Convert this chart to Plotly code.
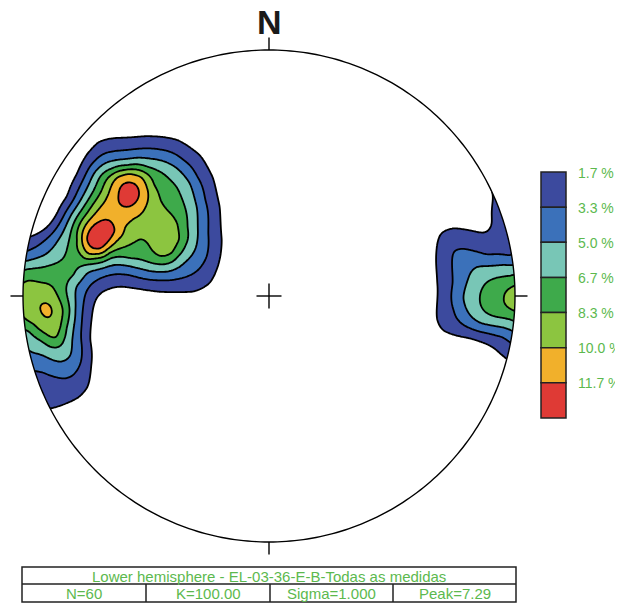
import numpy as np
import plotly.graph_objects as go

# ---------------- data ----------------
# Net coordinates: primitive circle radius = 246 net units, centre = (0, 0), north = +y.
NET_R = 246.0
level_labels = ["1.7 %", "3.3 %", "5.0 %", "6.7 %", "8.3 %", "10.0 %", "11.7 %"]
band_colors = ["#3c4a9e", "#3b71ba", "#78c6b6", "#3eaa4b", "#8cc540", "#f1b02b", "#df3a35"]
contour_step = 5.0 / 3.0  # % density between contour levels

# density samples read along each contour level (net units)
iso17 = [(-238, 60), (-226, 66), (-212, 82), (-202, 99), (-192, 122), (-182, 142), (-171, 154), (-154, 158),
         (-124, 160), (-91, 156), (-68, 140), (-56, 119), (-49, 89), (-47, 56), (-51, 30), (-59, 13), (-76, 4),
         (-109, 4), (-139, 8), (-159, 7), (-171, 0), (-177, -21), (-179, -44), (-178, -70), (-181, -91),
         (-191, -102), (-206, -109), (-219, -113),
         (168, 51), (168, 14), (168, -24), (172, 63), (184, 68), (201, 66), (216, 63), (223, 73), (223, 91),
         (220, 108), (173, -34), (201, -42), (231, -58)]
iso33 = [(-241, 45), (-224, 56), (-205, 81), (-191, 106), (-183, 122), (-173, 136), (-159, 144), (-142, 146),
         (-106, 146), (-86, 136), (-72, 119), (-64, 96), (-61, 63), (-62, 40), (-72, 25), (-92, 17), (-109, 16),
         (-139, 21), (-159, 21), (-173, 15), (-183, 3), (-187, -21), (-187, -49), (-188, -66), (-195, -78),
         (-212, -81), (-226, -76),
         (184, 44), (201, 46), (218, 41), (241, 39), (184, 13), (185, -14), (198, -31), (218, -37), (234, -41)]
iso50 = [(-242, 35), (-224, 41), (-211, 56), (-198, 81), (-183, 106), (-176, 121), (-164, 133), (-142, 137),
         (-109, 136), (-92, 128), (-79, 113), (-72, 89), (-71, 63), (-74, 46), (-84, 34), (-109, 24), (-139, 30),
         (-159, 30), (-181, 24), (-193, 10), (-194, -14), (-197, -44), (-198, -59), (-209, -66), (-226, -59),
         (-237, -57),
         (194, -2), (199, 16), (209, 30), (236, 32), (201, -19), (211, -27), (236, -32)]
iso67 = [(-242, 27), (-219, 31), (-200, 56), (-191, 81), (-175, 106), (-168, 121), (-157, 127), (-142, 130),
         (-122, 129), (-106, 123), (-92, 109), (-84, 89), (-82, 69), (-84, 51), (-92, 40), (-109, 32), (-139, 37),
         (-159, 38), (-181, 32), (-194, 20), (-203, 6), (-199, -14), (-203, -32), (-206, -44), (-212, -51),
         (-226, -45), (-240, -34),
         (211, -2), (217, 13), (226, 18), (241, 20), (216, -16), (226, -21), (241, -23)]
iso83 = [(-191, 56), (-183, 81), (-167, 106), (-116, 111), (-109, 96), (-102, 86), (-91, 72), (-89, 56),
         (-96, 42), (-109, 39), (-120, 52), (-129, 59), (-144, 49), (-159, 44), (-174, 38), (-187, 42),
         (-242, 16), (-229, 13), (-216, 9), (-211, -1), (-206, -14), (-208, -31), (-211, -43), (-219, -41),
         (-231, -33), (-242, -25),
         (236, -2), (241, 8), (241, -13)]
iso100 = [(-187, 56), (-182, 73), (-169, 89), (-159, 106), (-152, 119), (-141, 123), (-127, 119), (-121, 106),
          (-124, 89), (-136, 78), (-146, 69), (-152, 56), (-166, 43), (-182, 41),
          (-222, -7), (-218, -14), (-222, -21), (-226, -14)]
iso117 = [(-140, 113), (-130, 101), (-140, 89), (-150, 101),
          (-168, 75), (-153, 65), (-168, 47), (-183, 57)]

# density maxima and interior samples (net units, %)
peak_pts = [(-140, 101), (-168, 61), (-154, 82), (-119, 81), (-107, 68), (-99, 53), (-135, 67),
            (-222, -14), (-231, 1), (-232, -22),
            (253, -2), (243, -2), (228, 84), (234, 56), (229, 106)]
peak_vals = [12.9, 13.3, 11.0, 9.4, 9.3, 9.0, 9.6,
             10.6, 9.3, 9.3,
             9.8, 9.2, 2.2, 2.6, 1.9]

# empty (zero density) samples
zero_pts = [(-229, 74), (-221, 96), (-209, 118), (-197, 138), (-184, 156), (-164, 171), (-124, 174), (-84, 170),
            (-57, 151), (-43, 124), (-35, 89), (-33, 56), (-37, 24), (-47, 1), (-76, -10), (-109, -10),
            (-139, -6), (-157, -9), (-163, -24), (-165, -46), (-164, -70), (-168, -96), (-181, -114), (-199, -124),
            (0, 0), (0, 100), (0, 200), (-89, 226), (81, 186), (131, 96), (81, 0), (111, 0), (131, -84), (0, -100),
            (0, -200), (-109, -84), (-119, -174), (111, -174),
            (154, 51), (153, 6), (156, -39), (171, 80), (201, 82), (209, 98), (203, 118), (176, -54), (206, -58),
            (226, -74), (186, 136)]

info_title = "Lower hemisphere - EL-03-36-E-B-Todas as medidas"
info_cells = ["N=60", "K=100.00", "Sigma=1.000", "Peak=7.29"]
north_label = "N"

# ---------------- density surface (smoothing thin-plate spline through the samples) ----------------
iso_groups = [iso17, iso33, iso50, iso67, iso83, iso100, iso117]
pts, vals = [], []
for k, grp in enumerate(iso_groups):
    for p in grp:
        pts.append(p)
        vals.append(contour_step * (k + 1))
for p, v in zip(peak_pts, peak_vals):
    pts.append(p)
    vals.append(v)
for p in zero_pts:
    pts.append(p)
    vals.append(0.0)
pts = np.array(pts, dtype=float)
vals = np.array(vals, dtype=float)
n = len(pts)


def tps(r):
    out = np.zeros_like(r)
    m = r > 0
    out[m] = r[m] ** 2 * np.log(r[m])
    return out


dmat = np.sqrt(((pts[:, None, :] - pts[None, :, :]) ** 2).sum(-1))
K = tps(dmat) + 60.0 * np.eye(n)
Pm = np.hstack([np.ones((n, 1)), pts])
A = np.zeros((n + 3, n + 3))
A[:n, :n] = K
A[:n, n:] = Pm
A[n:, :n] = Pm.T
rhs = np.concatenate([vals, np.zeros(3)])
sol = np.linalg.solve(A, rhs)
w, coef = sol[:n], sol[n:]

g = np.arange(-258.0, 258.5, 1.5)
Z = np.empty((len(g), len(g)))
for i, yv in enumerate(g):
    dx = g[:, None] - pts[None, :, 0]
    dy = yv - pts[None, :, 1]
    r = np.sqrt(dx ** 2 + dy ** 2)
    Z[i] = tps(r) @ w + coef[0] + coef[1] * g + coef[2] * yv

colorscale = [[i / 7.0, c] for i, c in enumerate(["#ffffff"] + band_colors)]

fig = go.Figure()
fig.add_trace(go.Contour(
    x=g, y=g, z=Z,
    contours=dict(start=contour_step, end=7.02 * contour_step, size=contour_step, coloring="fill", showlines=True),
    line=dict(color="black", width=1.8, smoothing=1.0),
    colorscale=colorscale, showscale=False, hoverinfo="skip",
))

# ---------------- page geometry (page body has an 8 px margin) ----------------
OFF = 8
W, H = 623 - OFF, 604 - OFF
PCX, PCY = 269.0, 296.0  # page position of the net centre


def pxp(px):
    return (px - OFF) / W


def pyp(py):
    return 1 - (py - OFF) / H


shapes = []
th = np.linspace(0, 2 * np.pi, 361)
circ = " ".join(("M" if i == 0 else "L") + f"{NET_R * np.cos(a):.3f},{NET_R * np.sin(a):.3f}"
                for i, a in enumerate(th)) + " Z"
big = "M-900,-900 L900,-900 L900,900 L-900,900 Z "
shapes.append(dict(type="path", path=big + circ, fillcolor="white", line=dict(width=0),
                   layer="above", fillrule="evenodd", xref="x", yref="y"))
shapes.append(dict(type="path", path=circ, line=dict(color="black", width=1.4), layer="above",
                   xref="x", yref="y"))
tk = 12.5
lw = dict(color="black", width=1.4)
R = NET_R
for (x0, y0, x1, y1) in [(0, R, 0, R + tk), (0, -R, 0, -R - tk), (-R, 0, -R - tk, 0), (R, 0, R + tk, 0),
                         (-tk, 0, tk, 0), (0, -tk, 0, tk)]:
    shapes.append(dict(type="line", x0=x0, y0=y0, x1=x1, y1=y1, line=lw, layer="above", xref="x", yref="y"))

annotations = [dict(xref="paper", yref="paper", x=pxp(PCX), y=pyp(22), text=f"<b>{north_label}</b>",
                    showarrow=False, xanchor="center", yanchor="middle",
                    font=dict(family="Liberation Sans, Arial", size=34, color="#1a1a1a"))]

# legend (colour boxes)
bx0, bx1, by0, by1 = 541, 566, 172, 418
bh = (by1 - by0) / len(band_colors)
lfont = dict(family="Liberation Sans, Arial", size=14, color="#5cb94e")
for i, c in enumerate(band_colors):
    shapes.append(dict(type="rect", xref="paper", yref="paper", x0=pxp(bx0), x1=pxp(bx1),
                       y0=pyp(by0 + i * bh), y1=pyp(by0 + (i + 1) * bh), fillcolor=c,
                       line=dict(color="#222222", width=1.5), layer="above"))
    annotations.append(dict(xref="paper", yref="paper", x=pxp(576), y=pyp(by0 + i * bh + 0.5), text=level_labels[i],
                            xanchor="left", yanchor="middle", showarrow=False, font=lfont))

# info table
tx0, tx1, ty0, tym, ty1 = 22, 516, 567, 584, 602
tb = dict(color="#222222", width=1.5)
shapes.append(dict(type="rect", xref="paper", yref="paper", x0=pxp(tx0), x1=pxp(tx1), y0=pyp(ty0), y1=pyp(ty1),
                   line=tb, layer="above"))
shapes.append(dict(type="line", xref="paper", yref="paper", x0=pxp(tx0), x1=pxp(tx1), y0=pyp(tym), y1=pyp(tym),
                   line=tb, layer="above"))
divs = [tx0, 146, 270, 393, tx1]
for d in divs[1:-1]:
    shapes.append(dict(type="line", xref="paper", yref="paper", x0=pxp(d), x1=pxp(d), y0=pyp(tym), y1=pyp(ty1),
                       line=tb, layer="above"))
tfont = dict(family="Liberation Sans, Arial", size=15, color="#5cb94e")
annotations.append(dict(xref="paper", yref="paper", x=pxp((tx0 + tx1) / 2), y=pyp((ty0 + tym) / 2 + 0.5),
                        text=info_title, showarrow=False, font=tfont, xanchor="center", yanchor="middle",
                        borderpad=0))
for i, t in enumerate(info_cells):
    annotations.append(dict(xref="paper", yref="paper", x=pxp((divs[i] + divs[i + 1]) / 2),
                            y=pyp((tym + ty1) / 2 + 0.5), text=t, showarrow=False, font=tfont,
                            xanchor="center", yanchor="middle", borderpad=0))

fig.update_layout(
    width=W, height=H, margin=dict(l=0, r=0, t=0, b=0),
    paper_bgcolor="white", plot_bgcolor="white", showlegend=False,
    xaxis=dict(range=[OFF - PCX, OFF + W - PCX], visible=False, fixedrange=True),
    yaxis=dict(range=[PCY - (OFF + H), PCY - OFF], visible=False, fixedrange=True),
    shapes=shapes, annotations=annotations,
)
fig.write_html("out.html")
